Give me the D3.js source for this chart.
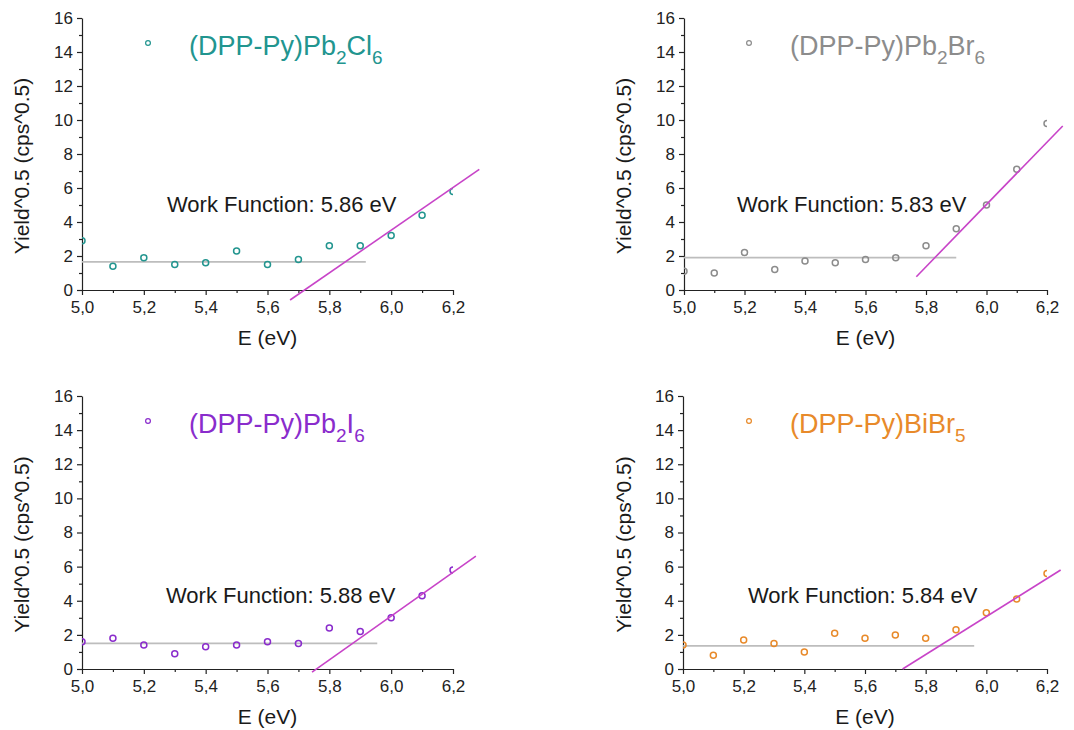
<!DOCTYPE html>
<html>
<head>
<meta charset="utf-8">
<script src="https://cdn.jsdelivr.net/npm/d3@7"></script>
<style>
  body { margin: 0; background: #fff; }
  svg { display: block; font-family: "Liberation Sans", Arial, sans-serif; }
  .axis path, .axis line { stroke: #222; stroke-width: 1.2; }
  .axis text { fill: #222; font-size: 17px; font-family: "Liberation Sans", Arial, sans-serif; }
</style>
</head>
<body>
<div id="chart"></div>
<script>
// photon energy (eV), shared by all four samples
const energies = [5.0, 5.1, 5.2, 5.3, 5.4, 5.5, 5.6, 5.7, 5.8, 5.9, 6.0, 6.1, 6.2];

// Yield^0.5
const yieldCl = [2.9, 1.4, 1.9, 1.5, 1.6, 2.3, 1.5, 1.8, 2.6, 2.6, 3.2, 4.4, 5.8];
const yieldBr = [1.1, 1.0, 2.2, 1.2, 1.7, 1.6, 1.8, 1.9, 2.6, 3.6, 5.0, 7.1, 9.8];
const yieldI  = [1.6, 1.8, 1.4, 0.9, 1.3, 1.4, 1.6, 1.5, 2.4, 2.2, 3.0, 4.3, 5.8];
const yieldBi = [1.4, 0.8, 1.7, 1.5, 1.0, 2.1, 1.8, 2.0, 1.8, 2.3, 3.3, 4.1, 5.6];

// background (grey) and onset fit (magenta) lines: [[x0,y0],[x1,y1]]
const baseCl = [[5.0, 1.65], [5.918, 1.65]];
const baseBr = [[5.0, 1.9], [5.9, 1.9]];
const baseI  = [[5.0, 1.5], [5.955, 1.5]];
const baseBi = [[5.0, 1.35], [5.96, 1.35]];
const fitCl = [[5.673, -0.59], [6.285, 7.1]];
const fitBr = [[5.768, 0.78], [6.252, 9.65]];
const fitI  = [[5.744, -0.18], [6.274, 6.62]];
const fitBi = [[5.724, 0.0], [6.245, 5.8]];

const workFunctions = ["5.86", "5.83", "5.88", "5.84"];
// legend labels as [text, subscript, text, subscript]
const labelCl = ["(DPP-Py)Pb", "2", "Cl", "6"];
const labelBr = ["(DPP-Py)Pb", "2", "Br", "6"];
const labelI  = ["(DPP-Py)Pb", "2", "I", "6"];
const labelBi = ["(DPP-Py)BiBr", "5", "", ""];

const xTicks = [5.0, 5.2, 5.4, 5.6, 5.8, 6.0, 6.2];
const yTicks = [0, 2, 4, 6, 8, 10, 12, 14, 16];

const panels = [
  {left: 82,  top: 18,  w: 371, h: 272, color: "#22958f", ys: yieldCl, base: baseCl, fit: fitCl, label: labelCl, wf: workFunctions[0], leg: 66, wfx: 85,  wfy: 194, ylab: 29},
  {left: 684, top: 18,  w: 363, h: 272, color: "#8c8c8c", ys: yieldBr, base: baseBr, fit: fitBr, label: labelBr, wf: workFunctions[1], leg: 65, wfx: 53,  wfy: 194, ylab: 631},
  {left: 82,  top: 396, w: 371, h: 273, color: "#8a2ccc", ys: yieldI,  base: baseI,  fit: fitI,  label: labelI,  wf: workFunctions[2], leg: 66, wfx: 84,  wfy: 207, ylab: 29},
  {left: 683, top: 396, w: 364, h: 273, color: "#e88a2a", ys: yieldBi, base: baseBi, fit: fitBi, label: labelBi, wf: workFunctions[3], leg: 66, wfx: 65,  wfy: 207, ylab: 631}
];

const svg = d3.select("#chart").append("svg")
  .attr("width", 1074)
  .attr("height", 730);

const fmt = d => d3.format(".1f")(d).replace(".", ",");

panels.forEach((p, i) => {
  const g = svg.append("g").attr("transform", `translate(${p.left},${p.top})`);

  const x = d3.scaleLinear().domain([5.0, 6.2]).range([0, p.w]);
  const y = d3.scaleLinear().domain([0, 16]).range([p.h, 0]);

  // clip for the data points only
  g.append("clipPath").attr("id", "clip" + i)
    .append("rect").attr("x", 0).attr("y", -10).attr("width", p.w).attr("height", p.h + 20);

  // minor ticks
  g.append("g").attr("class", "axis")
    .attr("transform", `translate(0,${p.h})`)
    .call(d3.axisBottom(x).tickValues(d3.range(5.1, 6.2, 0.2)).tickSize(3).tickFormat(""))
    .select(".domain").remove();
  g.append("g").attr("class", "axis")
    .call(d3.axisLeft(y).tickValues(d3.range(1, 16, 2)).tickSize(3).tickFormat(""))
    .select(".domain").remove();

  // major axes
  g.append("g").attr("class", "axis")
    .attr("transform", `translate(0,${p.h})`)
    .call(d3.axisBottom(x).tickValues(xTicks).tickSize(5).tickSizeOuter(0).tickPadding(6).tickFormat(fmt));
  g.append("g").attr("class", "axis")
    .call(d3.axisLeft(y).tickValues(yTicks).tickSize(5).tickSizeOuter(0).tickPadding(4));

  // background line
  const line = d3.line().x(d => x(d[0])).y(d => y(d[1]));
  g.append("path").datum(p.base)
    .attr("d", line).attr("fill", "none")
    .attr("stroke", "#bdbdbd").attr("stroke-width", 1.8);

  // points
  g.append("g").attr("clip-path", `url(#clip${i})`)
    .selectAll("circle").data(energies.map((e, k) => [e, p.ys[k]]))
    .join("circle")
    .attr("cx", d => x(d[0]))
    .attr("cy", d => y(d[1]))
    .attr("r", 3)
    .attr("fill", "none")
    .attr("stroke", p.color)
    .attr("stroke-width", 1.5);

  // onset fit
  g.append("path").datum(p.fit)
    .attr("d", line).attr("fill", "none")
    .attr("stroke", "#c844c8").attr("stroke-width", 1.6);

  // legend
  g.append("circle")
    .attr("cx", p.leg).attr("cy", 25).attr("r", 2.4)
    .attr("fill", "none").attr("stroke", p.color).attr("stroke-width", 1.2);
  const lt = g.append("text")
    .attr("x", p.leg + 41).attr("y", 37)
    .attr("fill", p.color).style("font-size", "27px");
  p.label.forEach((s, k) => {
    if (!s) return;
    const ts = lt.append("tspan").text(s);
    if (k % 2 === 1) ts.attr("dy", 9).style("font-size", "19px");
    else if (k > 0) ts.attr("dy", -9);
  });

  // work function annotation
  g.append("text")
    .attr("x", p.wfx).attr("y", p.wfy)
    .attr("fill", "#1a1a1a").style("font-size", "22px")
    .text(`Work Function: ${p.wf} eV`);

  // axis titles
  g.append("text")
    .attr("x", p.w / 2).attr("y", p.h + 55)
    .attr("text-anchor", "middle")
    .attr("fill", "#1a1a1a").style("font-size", "21px")
    .text("E (eV)");
  svg.append("text")
    .attr("transform", `translate(${p.ylab},${p.top + p.h / 2 + 12}) rotate(-90)`)
    .attr("text-anchor", "middle")
    .attr("fill", "#1a1a1a").style("font-size", "21px")
    .text("Yield^0.5 (cps^0.5)");
});
</script>
</body>
</html>
